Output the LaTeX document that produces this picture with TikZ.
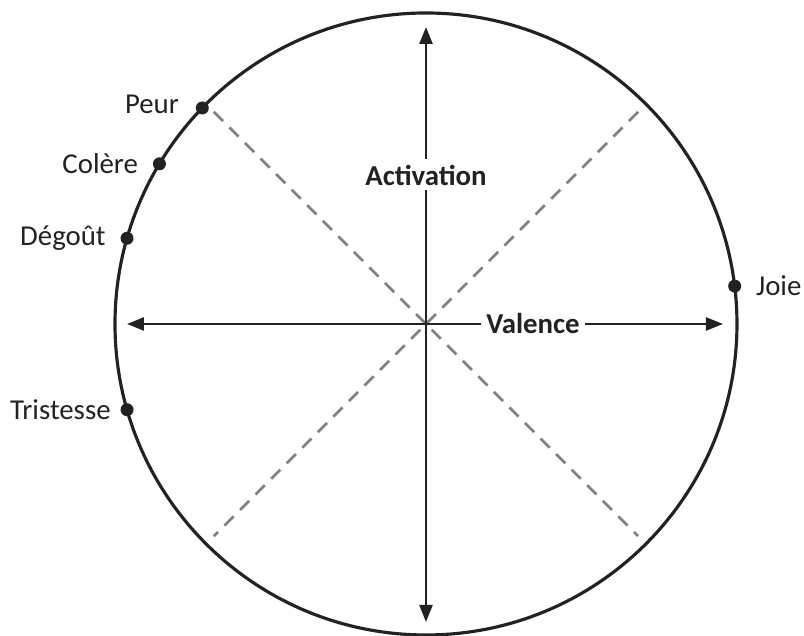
\documentclass[tikz,border=0pt]{standalone}
\usepackage{fontspec}
\setmainfont{Carlito}
\usetikzlibrary{positioning,arrows.meta}
\definecolor{rimgray}{RGB}{34,34,34}
\definecolor{dashgray}{RGB}{128,128,128}

\begin{document}
\begin{tikzpicture}[
  font=\fontsize{8.2}{10}\selectfont,
  node distance=0.1cm,
  rim/.style={draw=rimgray, line width=0.9pt},
  axis/.style={{Triangle[length=0.17cm,width=0.13cm]}-{Triangle[length=0.17cm,width=0.13cm]},
               draw=rimgray, line width=0.7pt},
  diag/.style={draw=dashgray, line width=0.75pt, dash pattern=on 0.13cm off 0.09cm},
  emo/.style={circle, fill=rimgray, inner sep=0pt, minimum size=0.13cm},
  axlabel/.style={fill=white, inner sep=1.5pt, text=rimgray,
                  font=\fontsize{8.2}{10}\selectfont\bfseries},
  txt/.style={text=rimgray, inner sep=1pt}
]
\useasboundingbox (-4.26,-3.12) rectangle (3.78,3.24);
\node[rim, circle, minimum size=6.22cm, inner sep=0pt, outer sep=0pt] (wheel) at (0,0) {};
% axes
\coordinate (top) at (0,2.97);
\coordinate (bottom) at (0,-2.98);
\coordinate (left) at (-2.99,0);
\coordinate (right) at (2.97,0);
\coordinate (nw) at (135:3);
\coordinate (ne) at (45:3);
\coordinate (sw) at (225:3);
\coordinate (se) at (-45:3);
\draw[diag] (nw) -- (se);
\draw[diag] (ne) -- (sw);
\draw[axis] (bottom) -- (top);
\draw[axis] (left) -- (right);
\node[axlabel] (act) at (0,1.49) {Activation};
\node[axlabel] (val) at (1.07,0) {Valence};
% emotions
\node[emo] (peur) at (wheel.136) {};
\node[emo] (colere) at (wheel.149) {};
\node[emo] (degout) at (wheel.164) {};
\node[emo] (tristesse) at (wheel.196) {};
\node[emo] (joie) at (wheel.7.6) {};
\node[txt, left=0.12cm of peur, yshift=0.04cm] (peurtxt) {Peur};
\node[txt, left=of colere] (coleretxt) {Colère};
\node[txt, left=of degout] (degouttxt) {Dégoût};
\node[txt, left=0.05cm of tristesse] (tristessetxt) {Tristesse};
\node[txt, right=0.1cm of joie] (joietxt) {Joie};
\end{tikzpicture}
\end{document}
